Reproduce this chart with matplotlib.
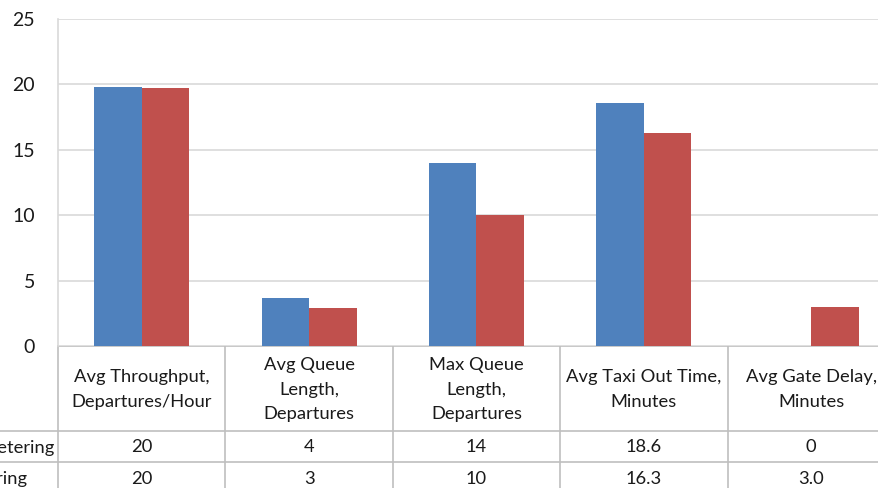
import matplotlib
matplotlib.use("Agg")
import matplotlib.pyplot as plt
from matplotlib.transforms import blended_transform_factory
from matplotlib.lines import Line2D

plt.rcParams['font.family'] = ['Lato', 'DejaVu Sans']

categories = [
    "Avg Throughput,\nDepartures/Hour",
    "Avg Queue\nLength,\nDepartures",
    "Max Queue\nLength,\nDepartures",
    "Avg Taxi Out Time,\nMinutes",
    "Avg Gate Delay,\nMinutes",
]
series_names = ["Without Metering", "With Metering"]
without_metering = [19.8, 3.7, 14.0, 18.6, 0.0]
with_metering = [19.7, 2.9, 10.0, 16.3, 3.0]
# decimals shown in the data table for each cell
without_decimals = [0, 0, 0, 1, 0]
with_decimals = [0, 0, 0, 1, 1]
y_ticks = [0, 5, 10, 15, 20, 25]

blue = "#4F81BD"
red = "#C0504D"
grid_c = "#D9D9D9"
text_c = "#1A1A1A"
fs = 13.2

W, H = 879, 488
fig = plt.figure(figsize=(W / 100, H / 100), dpi=100)
fig.patch.set_facecolor("white")

left_px, right_px, top_px, bottom_px = 58, 895, 19, 346
ax = fig.add_axes([left_px / W, (H - bottom_px) / H,
                   (right_px - left_px) / W, (bottom_px - top_px) / H])

n = len(categories)
xs = list(range(n))
bw = 0.284
ax.bar([x - bw / 2 for x in xs], without_metering, width=bw, color=blue, zorder=3)
ax.bar([x + bw / 2 for x in xs], with_metering, width=bw, color=red, zorder=3)

ax.set_xlim(-0.5, n - 0.5)
ax.set_ylim(0, 25)
ax.set_yticks(y_ticks)
ax.set_yticklabels([str(t) for t in y_ticks], fontsize=14, color=text_c)
ax.tick_params(axis="y", length=0, pad=16.5)
ax.set_xticks([])
ax.grid(axis="y", color=grid_c, linewidth=1.2, zorder=0)
for s in ["top", "right", "bottom"]:
    ax.spines[s].set_visible(False)
ax.spines["left"].set_color(grid_c)
ax.spines["left"].set_linewidth(1.2)

# data table underneath the plot
ov = fig.add_axes([0, 0, 1, 1], zorder=-1)
ov.set_xlim(0, W)
ov.set_ylim(H, 0)
ov.axis("off")
tr = blended_transform_factory(ax.transData, ov.transData)

row_lines = [bottom_px, 431, 462]
bounds = [x - 0.5 for x in xs] + [n - 0.5]
line_kw = dict(color="#BFBFBF", linewidth=1.2)
ov.add_line(Line2D([left_px, W], [bottom_px, bottom_px], **line_kw))
for yl in row_lines[1:]:
    ov.add_line(Line2D([0, W], [yl, yl], **line_kw))
for b in bounds:
    ov.add_line(Line2D([b, b], [bottom_px, H], transform=tr, **line_kw))

header_mid = (row_lines[0] + row_lines[1]) / 2 + 1
row_mids = [(row_lines[1] + row_lines[2]) / 2 + 1, row_lines[2] + 17]
for x, label in zip(xs, categories):
    ov.text(x, header_mid, label, transform=tr, ha="center", va="center",
            fontsize=fs, color=text_c, linespacing=1.62)


def fmt(v, d):
    return f"{v:.{d}f}"


for x, v, d in zip(xs, without_metering, without_decimals):
    ov.text(x, row_mids[0], fmt(v, d), transform=tr, ha="center", va="center",
            fontsize=fs, color=text_c)
for x, v, d in zip(xs, with_metering, with_decimals):
    ov.text(x, row_mids[1], fmt(v, d), transform=tr, ha="center", va="center",
            fontsize=fs, color=text_c)

# row headers, left-aligned at a common start
t1 = ov.text(54, row_mids[0], series_names[0], ha="right", va="center",
             fontsize=fs, color=text_c)
fig.canvas.draw()
bb = t1.get_window_extent(fig.canvas.get_renderer())
x_start = ov.transData.inverted().transform((bb.x0, bb.y0))[0]
ov.text(x_start, row_mids[1], series_names[1], ha="left", va="center",
        fontsize=fs, color=text_c)

fig.savefig("out.png", dpi=100)
